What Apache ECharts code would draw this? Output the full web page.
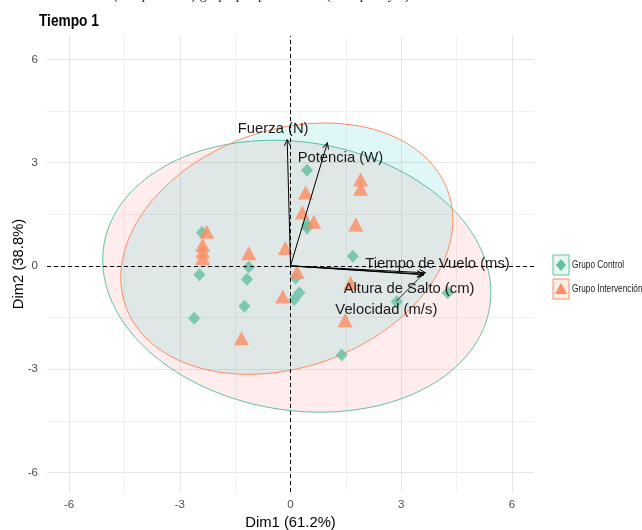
<!DOCTYPE html>
<html>
<head>
<meta charset="utf-8">
<script src="https://cdn.jsdelivr.net/npm/echarts@6/dist/echarts.min.js"></script>
<style>
  html, body { margin: 0; padding: 0; background: #ffffff; }
  #chart { width: 642px; height: 530px; }
</style>
</head>
<body>
<div id="chart"></div>
<script>
// ---- Individuals: PCA scores (Dim1, Dim2) ----
const controlDim1 = [0.45, 0.45, 0.45, -2.40, -2.47, -1.13, -1.18, -1.25, -2.61, 0.14, 0.10, 0.24, 1.69, 1.39, 4.26, 2.88];
const controlDim2 = [2.78, 1.20, 1.10, 0.97, -0.26, -0.03, -0.39, -1.17, -1.52, -0.35, -0.98, -0.78, 0.28, -2.59, -0.78, -1.04];
const interventionDim1 = [1.90, 1.90, 0.41, 0.32, 0.63, 1.77, -2.27, -2.38, -2.38, -2.38, -1.13, -0.14, 0.18, -0.21, 1.48, 1.63, -1.33];
const interventionDim2 = [2.51, 2.24, 2.13, 1.55, 1.28, 1.20, 0.99, 0.61, 0.42, 0.23, 0.37, 0.52, -0.17, -0.89, -1.58, -0.50, -2.10];

// ---- Variables: arrow tips (Dim1, Dim2) ----
const varNames = ['Fuerza (N)', 'Potencia (W)', 'Tiempo de Vuelo (ms)', 'Altura de Salto (cm)', 'Velocidad (m/s)'];
const varDim1 = [-0.09, 1.00, 3.66, 3.62, 3.60];
const varDim2 = [3.67, 3.58, -0.20, -0.26, -0.24];

// ---- Group concentration ellipses: centre, half extents, correlation ----
const groupNames = ['Grupo Control', 'Grupo Intervención'];
const ellipseCx = [0.17, -0.10];
const ellipseCy = [-0.30, 0.50];
const ellipseHalfX = [5.26, 4.50];
const ellipseHalfY = [3.95, 3.65];
const ellipseRho = [-0.12, 0.23];

// ---- Axis ticks and titles ----
const tickValues = [-6, -3, 0, 3, 6];
const minorStep = 1.5;
const xTitle = 'Dim1 (61.2%)';
const yTitle = 'Dim2 (38.8%)';

// ---- Layout / style ----
const X_MIN = -6.6, X_MAX = 6.6, Y_MIN = -6.57, Y_MAX = 6.68;
const PANEL = { left: 47, top: 36, width: 487, height: 456 };
const groupColors = ['#62C1A1', '#FC8D62'];
const ellipseFill = ['rgba(248,118,109,0.13)', 'rgba(0,191,196,0.12)'];
const legendFill = ['rgba(102,194,165,0.15)', 'rgba(252,141,98,0.17)'];
// label placement relative to each arrow tip (px), optional leader segment
const labelOffsets = [[-14, -11], [13, 15], [12, -9], [-15, 14], [-37, 36]];
const leaderFrom = [null, null, null, null, [-27, 27]];

const FONT = '"Liberation Sans", Arial, sans-serif';

const chart = echarts.init(document.getElementById('chart'), null, { renderer: 'canvas' });

// sub-panels whose extents span exactly -6..6 so split lines fall on 1.5 steps
const xSpan = X_MAX - X_MIN, ySpan = Y_MAX - Y_MIN;
const tMin = tickValues[0], tMax = tickValues[tickValues.length - 1];
const gridX = {
  left: PANEL.left + (tMin - X_MIN) / xSpan * PANEL.width,
  width: (tMax - tMin) / xSpan * PANEL.width,
  top: PANEL.top, height: PANEL.height, outerBoundsMode: 'none'
};
const gridY = {
  left: PANEL.left, width: PANEL.width,
  top: PANEL.top + (Y_MAX - tMax) / ySpan * PANEL.height,
  height: (tMax - tMin) / ySpan * PANEL.height, outerBoundsMode: 'none'
};

const tickFormatter = v => (tickValues.some(t => Math.abs(t - v) < 1e-9) ? String(v) : '');
const gridColors = ['#e6e6e6', '#f1f1f1'];

function ellipseItem(params, api) {
  const i = params.dataIndex;
  const a = ellipseHalfX[i], b = ellipseHalfY[i], r = ellipseRho[i];
  const s = Math.sqrt(1 - r * r);
  const pts = [];
  const n = 160;
  for (let k = 0; k < n; k++) {
    const t = k / n * Math.PI * 2;
    pts.push(api.coord([
      ellipseCx[i] + a * Math.cos(t),
      ellipseCy[i] + b * (r * Math.cos(t) + s * Math.sin(t))
    ]));
  }
  return {
    type: 'polygon',
    shape: { points: pts },
    style: { fill: ellipseFill[i], stroke: groupColors[i], lineWidth: 1 }
  };
}

function arrowItem(params, api) {
  const i = params.dataIndex;
  const o = api.coord([0, 0]);
  const p = api.coord([api.value(0), api.value(1)]);
  const ang = Math.atan2(p[1] - o[1], p[0] - o[0]);
  const L = 7, w = Math.PI / 7;
  const h1 = [p[0] - L * Math.cos(ang - w), p[1] - L * Math.sin(ang - w)];
  const h2 = [p[0] - L * Math.cos(ang + w), p[1] - L * Math.sin(ang + w)];
  const off = labelOffsets[i];
  const children = [
    { type: 'line', shape: { x1: o[0], y1: o[1], x2: p[0], y2: p[1] }, style: { stroke: '#000', lineWidth: 1 } },
    { type: 'polyline', shape: { points: [h1, p, h2] }, style: { stroke: '#000', fill: null, lineWidth: 1 } },
    {
      type: 'text', x: p[0] + off[0], y: p[1] + off[1],
      style: { text: varNames[i], fill: '#1a1a1a', fontSize: 14.8, fontFamily: FONT, align: 'center', verticalAlign: 'middle' }
    }
  ];
  const lf = leaderFrom[i];
  if (lf) {
    children.push({ type: 'line', shape: { x1: p[0] + lf[0], y1: p[1] + lf[1], x2: p[0] - 2, y2: p[1] + 2 }, style: { stroke: '#000', lineWidth: 0.8 } });
  }
  return { type: 'group', children };
}

// legend keys: framed box, group symbol, label
function legendKey(i, cy, shapePoints) {
  return [
    { type: 'rect', x: 553, y: cy - 10, shape: { width: 16, height: 20 }, style: { fill: legendFill[i], stroke: groupColors[i], lineWidth: 1 } },
    { type: 'polygon', shape: { points: shapePoints }, style: { fill: groupColors[i] } },
    {
      type: 'text', x: 572, y: cy, scaleX: 0.79,
      style: { text: groupNames[i], fill: '#1a1a1a', fontSize: 10.5, fontFamily: FONT, align: 'left', verticalAlign: 'middle' }
    }
  ];
}

const hidden = { show: false };

const option = {
  backgroundColor: '#ffffff',
  animation: false,
  textStyle: { fontFamily: FONT },
  graphic: [
    {
      type: 'text', left: 113, top: -12, silent: true,
      style: { text: '(componentes) grupo por pertenencia (Tiempo 1 y 2)', fill: '#222', fontSize: 14, fontFamily: '"Liberation Serif", serif' }
    },
    {
      type: 'text', x: 39, y: 21, scaleX: 0.83, silent: true,
      style: { text: 'Tiempo 1', fill: '#000', fontSize: 16.5, fontWeight: 'bold', fontFamily: FONT, align: 'left', verticalAlign: 'middle' }
    },
    {
      type: 'text', x: 19, y: PANEL.top + PANEL.height / 2, rotation: Math.PI / 2, silent: true,
      style: { text: yTitle, fill: '#000', fontSize: 14.8, fontFamily: FONT, align: 'center', verticalAlign: 'middle' }
    },
    ...legendKey(0, 265, [[561, 259], [566, 265], [561, 271], [556, 265]]),
    ...legendKey(1, 289, [[561, 283], [567, 294], [555, 294]])
  ],
  grid: [
    { left: PANEL.left, top: PANEL.top, width: PANEL.width, height: PANEL.height, outerBoundsMode: 'none' },
    gridX,
    gridY
  ],
  xAxis: [
    { type: 'value', gridIndex: 0, min: X_MIN, max: X_MAX, axisLine: hidden, axisTick: hidden, axisLabel: hidden, splitLine: hidden },
    {
      type: 'value', gridIndex: 1, min: tMin, max: tMax, interval: minorStep,
      axisLine: hidden, axisTick: hidden,
      axisLabel: { formatter: tickFormatter, color: '#4d4d4d', fontSize: 11.5, margin: 7, interval: 0 },
      splitLine: { show: true, lineStyle: { color: gridColors, width: 1 } },
      name: xTitle, nameLocation: 'middle', nameGap: 22,
      nameTextStyle: { fontSize: 14.8, color: '#000', fontFamily: FONT }
    },
    { type: 'value', gridIndex: 2, min: X_MIN, max: X_MAX, show: false }
  ],
  yAxis: [
    { type: 'value', gridIndex: 0, min: Y_MIN, max: Y_MAX, axisLine: hidden, axisTick: hidden, axisLabel: hidden, splitLine: hidden },
    { type: 'value', gridIndex: 1, min: Y_MIN, max: Y_MAX, show: false },
    {
      type: 'value', gridIndex: 2, min: tMin, max: tMax, interval: minorStep,
      axisLine: hidden, axisTick: hidden,
      axisLabel: { formatter: tickFormatter, color: '#4d4d4d', fontSize: 11.5, margin: 9, interval: 0 },
      splitLine: { show: true, lineStyle: { color: gridColors, width: 1 } }
    }
  ],
  series: [
    {
      type: 'custom', name: 'elipses', xAxisIndex: 0, yAxisIndex: 0, z: 1, silent: true,
      renderItem: ellipseItem,
      data: ellipseCx.map((cx, i) => [cx, ellipseCy[i]]),
      encode: { x: 0, y: 1 }
    },
    {
      type: 'scatter', name: 'ejes', xAxisIndex: 0, yAxisIndex: 0, z: 2, silent: true,
      symbolSize: 0, data: [[0, 0]],
      markLine: {
        silent: true, symbol: 'none', animation: false,
        label: { show: false },
        lineStyle: { color: '#000', type: [4, 3], width: 1 },
        data: [{ xAxis: 0 }, { yAxis: 0 }]
      }
    },
    {
      type: 'scatter', name: groupNames[0], xAxisIndex: 0, yAxisIndex: 0, z: 3,
      symbol: 'diamond', symbolSize: [12, 13],
      itemStyle: { color: groupColors[0] },
      data: controlDim1.map((x, i) => [x, controlDim2[i]])
    },
    {
      type: 'scatter', name: groupNames[1], xAxisIndex: 0, yAxisIndex: 0, z: 3,
      symbol: 'triangle', symbolSize: [15, 14],
      itemStyle: { color: groupColors[1] },
      data: interventionDim1.map((x, i) => [x, interventionDim2[i]])
    },
    {
      type: 'custom', name: 'variables', xAxisIndex: 0, yAxisIndex: 0, z: 4, silent: true,
      renderItem: arrowItem,
      data: varDim1.map((x, i) => [x, varDim2[i]]),
      encode: { x: 0, y: 1 }
    }
  ]
};

chart.setOption(option);
</script>
</body>
</html>
